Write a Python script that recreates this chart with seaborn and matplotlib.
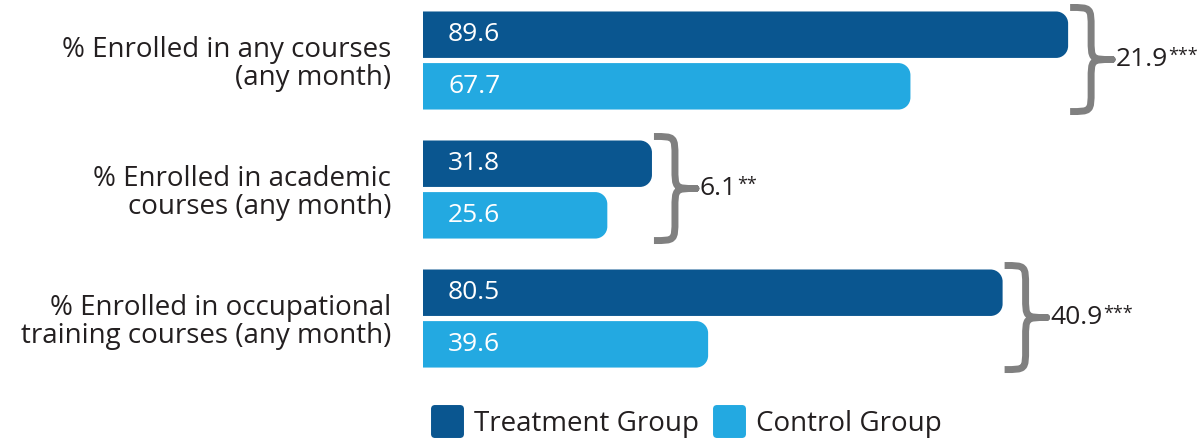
import numpy as np
import pandas as pd
import matplotlib.pyplot as plt
import seaborn as sns
from matplotlib.patches import PathPatch
from matplotlib.path import Path
from matplotlib.lines import Line2D
from matplotlib.markers import MarkerStyle

# --- datos ---
categories = ["% Enrolled in any courses\n(any month)",
              "% Enrolled in academic\ncourses (any month)",
              "% Enrolled in occupational\ntraining courses (any month)"]
groups = ["Treatment Group", "Control Group"]
treatment = [89.6, 31.8, 80.5]
control = [67.7, 25.6, 39.6]
differences = ["21.9", "6.1", "40.9"]
stars = ["***", "**", "***"]

colors = {"Treatment Group": "#0a5690", "Control Group": "#23a9e1"}
brace_color = "#808080"
text_color = "#231f20"

df = pd.DataFrame({
    "label": categories * 2,
    "group": [groups[0]] * 3 + [groups[1]] * 3,
    "value": treatment + control,
})

sns.set_style("white")
plt.rcParams["font.family"] = ["Open Sans", "DejaVu Sans"]

W, H = 1204, 443
fig = plt.figure(figsize=(W / 100, H / 100), dpi=100)
ax = fig.add_axes([423 / W, 1 - 390 / H, 781 / W, 390 / H])

sns.barplot(data=df, x="value", y="label", hue="group", orient="h",
            palette=colors, saturation=1, width=0.8, gap=0.1,
            linewidth=0, legend=False, ax=ax)

px_x = 7.2     # pixels por unidad en x
px_y = 129.0   # pixels por categoría en y
ax.set_xlim(0, 781 / px_x)
ax.set_ylim(2.554, -0.469)


def right_rounded(x, y, w, h, rx, ry):
    k = 0.5523
    verts = [(x, y), (x + w - rx, y),
             (x + w - rx + k * rx, y), (x + w, y + ry - k * ry), (x + w, y + ry),
             (x + w, y + h - ry),
             (x + w, y + h - ry + k * ry), (x + w - rx + k * rx, y + h), (x + w - rx, y + h),
             (x, y + h), (x, y)]
    codes = [Path.MOVETO, Path.LINETO,
             Path.CURVE4, Path.CURVE4, Path.CURVE4,
             Path.LINETO,
             Path.CURVE4, Path.CURVE4, Path.CURVE4,
             Path.LINETO, Path.CLOSEPOLY]
    return Path(verts, codes)


# barras redondeadas a la derecha
for patch in list(ax.patches):
    x, y = patch.get_x(), patch.get_y()
    w, h = patch.get_width(), patch.get_height()
    c = patch.get_facecolor()
    patch.set_visible(False)
    ax.add_patch(PathPatch(right_rounded(x, y, w, h, 12 / px_x, 12 / px_y),
                           fc=c, ec="none"))

# etiquetas de valores
for cont, vals in zip(ax.containers, [treatment, control]):
    for bar, v in zip(cont, vals):
        ax.text(bar.get_x() + 25 / px_x, bar.get_y() + bar.get_height() / 2,
                f"{v:.1f}", color="white", fontsize=19, va="center", ha="left")


def brace(ax, x0, top, bottom, w):
    xm = x0 + w * 0.5
    xt = x0 + w
    ym = (top + bottom) / 2
    d = (bottom - top) * 0.2
    verts = [(x0, top),
             (xm, top), (xm, top), (xm, top + d),
             (xm, ym - d),
             (xm, ym), (xm, ym), (xt, ym),
             (xm, ym), (xm, ym), (xm, ym + d),
             (xm, bottom - d),
             (xm, bottom), (xm, bottom), (x0, bottom)]
    codes = [Path.MOVETO,
             Path.CURVE4, Path.CURVE4, Path.CURVE4,
             Path.LINETO,
             Path.CURVE4, Path.CURVE4, Path.CURVE4,
             Path.CURVE4, Path.CURVE4, Path.CURVE4,
             Path.LINETO,
             Path.CURVE4, Path.CURVE4, Path.CURVE4]
    ax.add_patch(PathPatch(Path(verts, codes), fill=False, ec=brace_color,
                           lw=5, capstyle="butt", joinstyle="round"))
    return xt, ym


t_bars, c_bars = ax.containers[0], ax.containers[1]
for i in range(len(categories)):
    tb, cb = t_bars[i], c_bars[i]
    x0 = max(tb.get_width(), cb.get_width()) + 2 / px_x
    top = tb.get_y() - 4 / px_y
    bottom = cb.get_y() + cb.get_height() + 2 / px_y
    xt, ym = brace(ax, x0, top, bottom, 42 / px_x)
    t = ax.text(xt + 4 / px_x, ym, differences[i], fontsize=19,
                color=text_color, va="center", ha="left")
    ax.annotate(stars[i], xy=(1, 1.0), xycoords=t, fontsize=13,
                color=text_color, va="top", ha="left")

ax.set_xlabel("")
ax.set_ylabel("")
ax.set_xticks([])
ax.set_yticks(range(len(categories)))
ax.set_yticklabels(categories, multialignment="right", linespacing=1.0)
ax.tick_params(axis="y", length=0, pad=23, labelsize=20, labelcolor=text_color)
sns.despine(ax=ax, left=True, bottom=True)

handles = [Line2D([], [], ls="none",
                  marker=MarkerStyle("s", joinstyle="round"),
                  markersize=19, mfc=colors[g], mec=colors[g], mew=5)
           for g in groups]
fig.legend(handles, groups, loc="center", bbox_to_anchor=(686 / W, 1 - 424 / H),
           ncol=2, frameon=False, fontsize=20, handletextpad=0.35,
           columnspacing=0.5, handlelength=1.2, labelcolor=text_color,
           borderpad=0)

fig.savefig("out.png", dpi=100)
